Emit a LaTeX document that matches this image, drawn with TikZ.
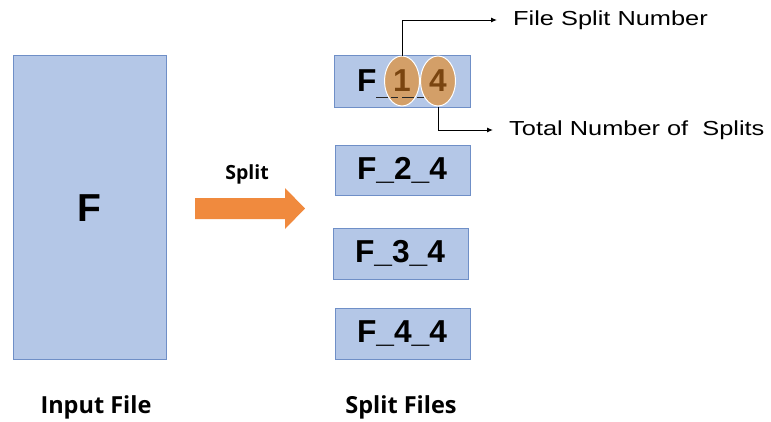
\documentclass[tikz,border=0pt]{standalone}
\usepackage{fontspec}
\setmainfont{Open Sans}
\newfontfamily\namefont{Liberation Sans}
\newfontfamily\notefont[FakeStretch=1.25]{Liberation Sans}
\usetikzlibrary{shapes.geometric,arrows.meta}
\definecolor{boxfill}{HTML}{B4C7E7}
\definecolor{boxline}{HTML}{6F8FC7}
\definecolor{splitorange}{HTML}{F08A3E}
\definecolor{tagfill}{HTML}{D69C5E}
\definecolor{tagtext}{HTML}{7A4510}
\tikzset{
  filebox/.style={draw=boxline, line width=0.8pt, fill=boxfill},
  bigtext/.style={font=\namefont\bfseries\fontsize{31.7}{36}\selectfont, inner sep=0pt},
  caption/.style={font=\bfseries\fontsize{23.5}{26}\selectfont, inner sep=0pt},
  note/.style={font=\notefont\fontsize{20.3}{23}\selectfont, inner sep=0pt, anchor=west},
  tag/.style={ellipse, draw=white, line width=1pt, fill=tagfill, fill opacity=0.92,
    minimum width=35pt, minimum height=50pt, inner sep=0pt},
  tagdigit/.style={font=\namefont\bfseries\fontsize{31.7}{36}\selectfont, text=tagtext, inner sep=0pt},
  pointer/.style={-{Latex[length=6pt,width=5pt]}, line width=1pt, shorten >=16pt},
}
\begin{document}
\begin{tikzpicture}[x=1pt,y=-1pt]
\useasboundingbox (0,0) rectangle (771,421);

% input file
\draw[filebox] (13,55) rectangle (166,359);
\node[font=\namefont\bfseries\fontsize{39}{42}\selectfont, inner sep=0pt] (fin) at (89.5,208) {F};
\node[caption] (incap) at (96,407) {Input File};

% split arrow
\fill[splitorange] (195,198) -- (285,198) -- (285,188) -- (305,208.5) -- (285,229) -- (285,219) -- (195,219) -- cycle;
\node[font=\bfseries\fontsize{19.5}{22}\selectfont, inner sep=0pt] (splitlbl) at (247,174) {Split};

% split files
\draw[filebox] (334,55) rectangle (470,107);
\draw[filebox] (335,145) rectangle (470,195);
\draw[filebox] (333,228) rectangle (468,279);
\draw[filebox] (335,308) rectangle (470,359);

\node[bigtext, anchor=west] (f1) at (357,81) {F};
\node[bigtext] (f2) at (402,170) {F\_2\_4};
\node[bigtext] (f3) at (400,253.5) {F\_3\_4};
\node[bigtext] (f4) at (402,333.5) {F\_4\_4};

% highlighted number fields of the first name
\node[tag] (t1) at (402,81) {};
\node[tag] (t2) at (438,81) {};
\node[tagdigit] (d1) at (t1) {1};
\node[tagdigit] (d2) at (t2) {4};
\draw[black!85, line width=1.3pt, dash pattern=on 12pt off 3pt on 7pt off 4pt] (376,97.5) -- (428,97.5);

\node[caption] (outcap) at (401,407) {Split Files};

% annotations
\node[note] (n1) at (513,20) {File Split Number};
\node[note] (n2) at (509,130) {Total Number of\ \ Splits};
\draw[pointer] (t1.north) |- (n1.west);
\draw[pointer] (t2.south) |- (n2.west);
\end{tikzpicture}
\end{document}
